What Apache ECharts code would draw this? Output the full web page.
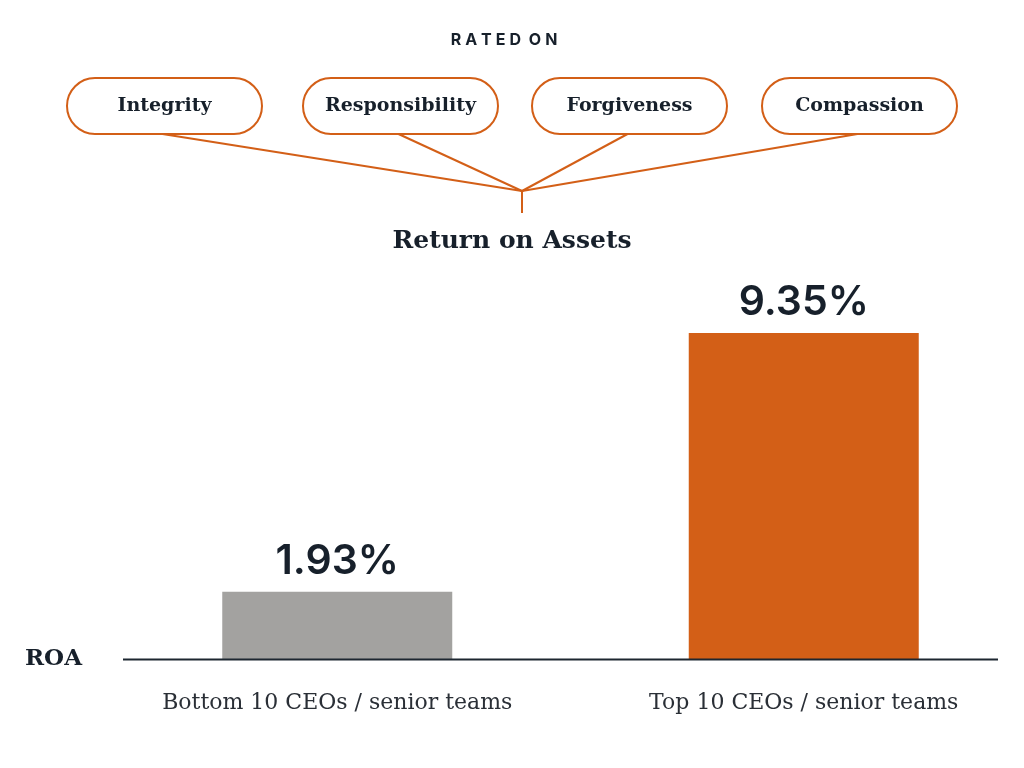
<!DOCTYPE html>
<html>
<head>
<meta charset="utf-8">
<title>Return on Assets</title>
<script src="https://cdn.jsdelivr.net/npm/echarts@6/dist/echarts.min.js"></script>
<style>
  html, body { margin: 0; padding: 0; background: #fff; }
  #chart { width: 1024px; height: 768px; }
</style>
</head>
<body>
<div id="chart"></div>
<script>
// data
const categories = ['Bottom 10 CEOs / senior teams', 'Top 10 CEOs / senior teams'];
const roaValues = [1.93, 9.35];
const barColors = ['#a3a2a0', '#d35f17'];
const criteria = ['Integrity', 'Responsibility', 'Forgiveness', 'Compassion'];

const ORANGE = '#d35f17';
const INK = '#17202b';
const SLAB = '"DejaVu Serif", serif';

// pill layout for the "rated on" header
const pillX = [67, 303, 532, 762];
const pillW = 195, pillH = 56, pillY = 78;
const hub = [522, 191];

const graphics = [];
criteria.forEach((name, i) => {
  graphics.push({
    type: 'rect',
    shape: { x: pillX[i], y: pillY, width: pillW, height: pillH, r: pillH / 2 },
    style: { fill: '#fff', stroke: ORANGE, lineWidth: 2 }
  });
  graphics.push({
    type: 'text',
    x: pillX[i] + pillW / 2, y: pillY + pillH / 2,
    style: {
      text: name, fill: INK, font: 'bold 19px ' + SLAB,
      align: 'center', verticalAlign: 'middle'
    }
  });
  graphics.push({
    type: 'line',
    shape: { x1: pillX[i] + pillW / 2 - 2, y1: pillY + pillH, x2: hub[0], y2: hub[1] },
    style: { stroke: ORANGE, lineWidth: 2 }
  });
});
graphics.push(
  {
    type: 'line',
    shape: { x1: hub[0], y1: hub[1], x2: hub[0], y2: 213 },
    style: { stroke: ORANGE, lineWidth: 2 }
  },
  {
    type: 'text', x: 504, y: 40,
    style: {
      text: 'R\u2005A\u2005T\u2005E\u2005D\u2005 O\u2005N', fill: INK,
      font: 'bold 16px Inter, sans-serif', align: 'center', verticalAlign: 'middle'
    }
  },
  {
    type: 'text', x: 512, y: 241,
    style: {
      text: 'Return on Assets', fill: INK, font: 'bold 25px ' + SLAB,
      align: 'center', verticalAlign: 'middle'
    }
  },
  {
    type: 'text', x: 25, y: 659,
    style: {
      text: 'ROA', fill: INK, font: 'bold 23px ' + SLAB,
      align: 'left', verticalAlign: 'middle'
    }
  },
  {
    // baseline
    type: 'line', z: 10,
    shape: { x1: 123, y1: 659.5, x2: 998, y2: 659.5 },
    style: { stroke: '#1d2630', lineWidth: 2 }
  }
);

const chart = echarts.init(document.getElementById('chart'));
chart.setOption({
  animation: false,
  grid: { left: 104, width: 933, top: 333, bottom: 109, outerBoundsMode: 'none', containLabel: false },
  xAxis: {
    type: 'category',
    data: categories,
    axisLine: { show: false },
    axisTick: { show: false },
    axisLabel: {
      margin: 33, fontSize: 22, color: '#2a2f36',
      fontFamily: SLAB, fontWeight: 'normal'
    }
  },
  yAxis: {
    type: 'value', min: 0, max: 9.35,
    show: false, splitLine: { show: false }
  },
  series: [{
    type: 'bar',
    barWidth: 230,
    data: roaValues.map((v, i) => ({ value: v, itemStyle: { color: barColors[i] } })),
    label: {
      show: true, position: 'top', distance: 10,
      formatter: p => p.value.toFixed(2) + '%',
      fontFamily: 'Inter, sans-serif', fontWeight: 600, fontSize: 41, color: INK
    }
  }],
  graphic: graphics
});
</script>
</body>
</html>
